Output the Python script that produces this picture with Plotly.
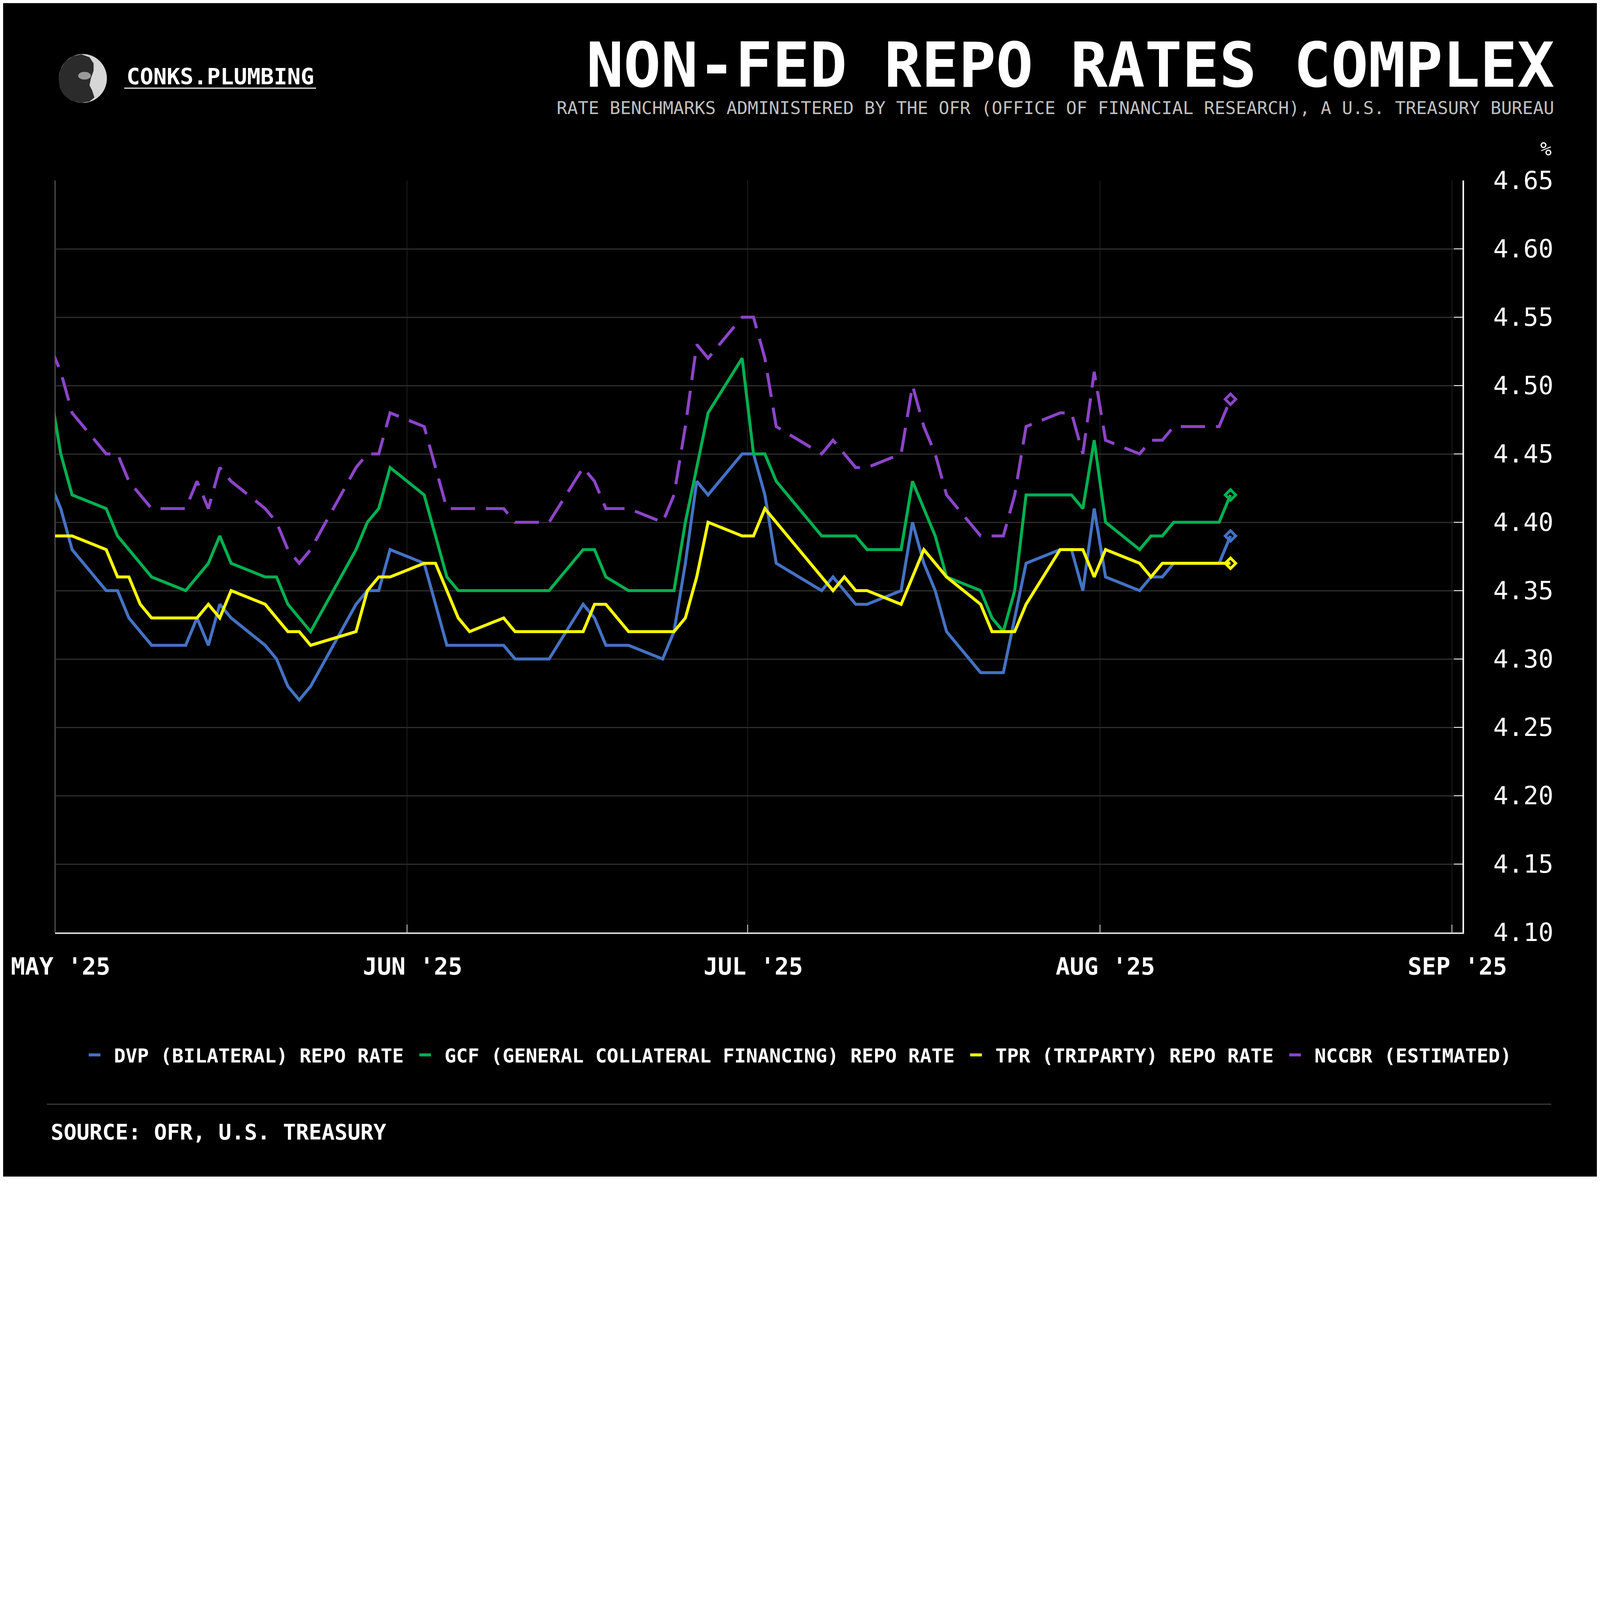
import plotly.graph_objects as go
import pandas as pd

# ---------------- DATA ----------------
dates = ["2025-04-30",
         "2025-05-01", "2025-05-02", "2025-05-05", "2025-05-06", "2025-05-07", "2025-05-08", "2025-05-09",
         "2025-05-12", "2025-05-13", "2025-05-14", "2025-05-15", "2025-05-16",
         "2025-05-19", "2025-05-20", "2025-05-21", "2025-05-22", "2025-05-23",
         "2025-05-27", "2025-05-28", "2025-05-29", "2025-05-30",
         "2025-06-02", "2025-06-03", "2025-06-04", "2025-06-05", "2025-06-06",
         "2025-06-09", "2025-06-10", "2025-06-11", "2025-06-12", "2025-06-13",
         "2025-06-16", "2025-06-17", "2025-06-18", "2025-06-20",
         "2025-06-23", "2025-06-24", "2025-06-25", "2025-06-26", "2025-06-27",
         "2025-06-30", "2025-07-01", "2025-07-02", "2025-07-03",
         "2025-07-07", "2025-07-08", "2025-07-09", "2025-07-10", "2025-07-11",
         "2025-07-14", "2025-07-15", "2025-07-16", "2025-07-17", "2025-07-18",
         "2025-07-21", "2025-07-22", "2025-07-23", "2025-07-24", "2025-07-25",
         "2025-07-28", "2025-07-29", "2025-07-30", "2025-07-31", "2025-08-01",
         "2025-08-04", "2025-08-05", "2025-08-06", "2025-08-07", "2025-08-08",
         "2025-08-11", "2025-08-12"]

dvp = [4.43,
       4.41, 4.38, 4.35, 4.35, 4.33, 4.32, 4.31,
       4.31, 4.33, 4.31, 4.34, 4.33,
       4.31, 4.30, 4.28, 4.27, 4.28,
       4.34, 4.35, 4.35, 4.38,
       4.37, 4.34, 4.31, 4.31, 4.31,
       4.31, 4.30, 4.30, 4.30, 4.30,
       4.34, 4.33, 4.31, 4.31,
       4.30, 4.32, 4.37, 4.43, 4.42,
       4.45, 4.45, 4.42, 4.37,
       4.35, 4.36, 4.35, 4.34, 4.34,
       4.35, 4.40, 4.37, 4.35, 4.32,
       4.29, 4.29, 4.29, 4.33, 4.37,
       4.38, 4.38, 4.35, 4.41, 4.36,
       4.35, 4.36, 4.36, 4.37, 4.37,
       4.37, 4.39]

gcf = [4.50,
       4.45, 4.42, 4.41, 4.39, 4.38, 4.37, 4.36,
       4.35, 4.36, 4.37, 4.39, 4.37,
       4.36, 4.36, 4.34, 4.33, 4.32,
       4.38, 4.40, 4.41, 4.44,
       4.42, 4.39, 4.36, 4.35, 4.35,
       4.35, 4.35, 4.35, 4.35, 4.35,
       4.38, 4.38, 4.36, 4.35,
       4.35, 4.35, 4.40, 4.44, 4.48,
       4.52, 4.45, 4.45, 4.43,
       4.39, 4.39, 4.39, 4.39, 4.38,
       4.38, 4.43, 4.41, 4.39, 4.36,
       4.35, 4.33, 4.32, 4.35, 4.42,
       4.42, 4.42, 4.41, 4.46, 4.40,
       4.38, 4.39, 4.39, 4.40, 4.40,
       4.40, 4.42]

tpr = [4.39,
       4.39, 4.39, 4.38, 4.36, 4.36, 4.34, 4.33,
       4.33, 4.33, 4.34, 4.33, 4.35,
       4.34, 4.33, 4.32, 4.32, 4.31,
       4.32, 4.35, 4.36, 4.36,
       4.37, 4.37, 4.35, 4.33, 4.32,
       4.33, 4.32, 4.32, 4.32, 4.32,
       4.32, 4.34, 4.34, 4.32,
       4.32, 4.32, 4.33, 4.36, 4.40,
       4.39, 4.39, 4.41, 4.40,
       4.36, 4.35, 4.36, 4.35, 4.35,
       4.34, 4.36, 4.38, 4.37, 4.36,
       4.34, 4.32, 4.32, 4.32, 4.34,
       4.38, 4.38, 4.38, 4.36, 4.38,
       4.37, 4.36, 4.37, 4.37, 4.37,
       4.37, 4.37]

nccbr = [4.53,
         4.51, 4.48, 4.45, 4.45, 4.43, 4.42, 4.41,
         4.41, 4.43, 4.41, 4.44, 4.43,
         4.41, 4.40, 4.38, 4.37, 4.38,
         4.44, 4.45, 4.45, 4.48,
         4.47, 4.44, 4.41, 4.41, 4.41,
         4.41, 4.40, 4.40, 4.40, 4.40,
         4.44, 4.43, 4.41, 4.41,
         4.40, 4.42, 4.47, 4.53, 4.52,
         4.55, 4.55, 4.52, 4.47,
         4.45, 4.46, 4.45, 4.44, 4.44,
         4.45, 4.50, 4.47, 4.45, 4.42,
         4.39, 4.39, 4.39, 4.42, 4.47,
         4.48, 4.48, 4.45, 4.51, 4.46,
         4.45, 4.46, 4.46, 4.47, 4.47,
         4.47, 4.49]

series_names = ["DVP (BILATERAL) REPO RATE",
                "GCF (GENERAL COLLATERAL FINANCING) REPO RATE",
                "TPR (TRIPARTY) REPO RATE",
                "NCCBR (ESTIMATED)"]
series_values = [dvp, gcf, tpr, nccbr]
series_colors = ["#4472C4", "#00B050", "#FFFF00", "#8C44C8"]
series_dashed = [False, False, False, True]

month_ticks = ["2025-05-01", "2025-06-01", "2025-07-01", "2025-08-01", "2025-09-01"]
month_labels = ["MAY '25", "JUN '25", "JUL '25", "AUG '25", "SEP '25"]
y_ticks = [4.10, 4.15, 4.20, 4.25, 4.30, 4.35, 4.40, 4.45, 4.50, 4.55, 4.60, 4.65]

title_text = "NON-FED REPO RATES COMPLEX"
subtitle_text = "RATE BENCHMARKS ADMINISTERED BY THE OFR (OFFICE OF FINANCIAL RESEARCH), A U.S. TREASURY BUREAU"
brand_text = "CONKS.PLUMBING"
source_text = "SOURCE: OFR, U.S. TREASURY"

# ---------------- GEOMETRY ----------------
# Reference measured in 5904-wide units; page is ~4100 css px wide (8px body margin)
K = 4100.0 / 5904.0
OFF = 8.0
FONT = "DejaVu Sans Mono"


def c(v):      # reference position -> figure px
    return v * K - OFF


def s(v):      # reference size -> css px
    return v * K


W, H = 4084, 3004
L, R, T, B = c(203), c(5392), c(666), c(3437)


def px(x):
    return (c(x) - L) / (R - L)


def py(y):
    return (B - c(y)) / (B - T)


# observations are plotted at mid-day
x_vals = pd.to_datetime(dates) + pd.Timedelta(hours=12)
dash_pat = "%dpx,%dpx" % (round(s(90)), round(s(40)))
NB = "\u00a0"

fig = go.Figure()
for name, vals, col, dashed in zip(series_names, series_values, series_colors, series_dashed):
    fig.add_trace(go.Scatter(
        x=x_vals, y=vals, mode="lines", name="<b>" + NB + name + NB + "</b>",
        line=dict(color=col, width=s(11), dash=dash_pat if dashed else "solid"),
        hoverinfo="skip"))
for name, vals, col in zip(series_names, series_values, series_colors):
    fig.add_trace(go.Scatter(
        x=[x_vals[-1]], y=[vals[-1]], mode="markers", showlegend=False,
        marker=dict(symbol="diamond-open", size=s(30), color=col,
                    line=dict(color=col, width=s(10))),
        hoverinfo="skip"))

fig.update_layout(
    width=W, height=H, autosize=False,
    margin=dict(l=round(L), r=round(W - R), t=round(T), b=round(H - B), pad=0,
                autoexpand=False),
    paper_bgcolor="#000000", plot_bgcolor="#000000",
    font=dict(family=FONT, color="white"),
    showlegend=True,
    legend=dict(orientation="h", x=px(5624), xanchor="right",
                y=py(3889), yanchor="middle",
                font=dict(family=FONT, size=s(71), color="white"),
                bgcolor="rgba(0,0,0,0)", itemwidth=30, tracegroupgap=0),
    xaxis=dict(type="date", range=["2025-05-01", "2025-09-01 22:20"],
               tickmode="array", tickvals=month_ticks,
               ticktext=["<b>" + t + "</b>" for t in month_labels],
               ticks="inside", ticklen=round(s(29)), tickwidth=2, tickcolor="#dddddd",
               showline=True, linecolor="#d9d9d9", linewidth=s(6),
               showgrid=True, gridcolor="#1e1e1e", gridwidth=2, zeroline=False,
               tickangle=0, automargin=False,
               tickfont=dict(family=FONT, size=s(87), color="white"),
               ticklabelshift=int(round(s(20))), ticklabelstandoff=int(round(s(44)))),
    yaxis=dict(side="right", range=[4.10, 4.65],
               tickmode="array", tickvals=y_ticks,
               ticktext=["%.2f" % v for v in y_ticks],
               ticks="inside", ticklen=round(s(31)), tickwidth=2, tickcolor="white",
               showline=True, linecolor="white", linewidth=s(6),
               showgrid=True, gridcolor="#2e2e2e", gridwidth=s(4), zeroline=False,
               automargin=False,
               tickfont=dict(family=FONT, size=s(92), color="white"),
               ticklabelstandoff=int(round(s(90)))),
)

# left frame line
fig.add_shape(type="line", xref="x domain", yref="y domain", x0=0, x1=0, y0=0, y1=1,
              line=dict(color="#474747", width=s(5)), layer="below")

# separator above the source
fig.add_shape(type="line", xref="paper", yref="paper", x0=px(173), x1=px(5719),
              y0=py(4070), y1=py(4070), line=dict(color="#3a3a3a", width=s(4)))

# brand underline
fig.add_shape(type="line", xref="paper", yref="paper", x0=px(458), x1=px(1165),
              y0=py(326), y1=py(326), line=dict(color="#cccccc", width=s(5)))

# logo (simplified)
fig.add_shape(type="circle", xref="paper", yref="paper", x0=px(217), x1=px(394),
              y0=py(380), y1=py(200), fillcolor="#d6d6d6", line=dict(width=0))
hood = [(300, 201), (268, 208), (240, 228), (222, 258), (216, 290), (220, 325), (236, 352),
        (262, 372), (300, 380), (330, 375), (348, 360), (340, 335), (330, 315), (335, 290),
        (345, 262), (345, 235), (330, 212)]
path = "M " + " L ".join("%f,%f" % (px(a), py(b)) for a, b in hood) + " Z"
fig.add_shape(type="path", xref="paper", yref="paper", path=path,
              fillcolor="#2b2b2b", line=dict(width=0))
fig.add_shape(type="circle", xref="paper", yref="paper", x0=px(288), x1=px(335),
              y0=py(294), y1=py(266), fillcolor="#9a9a9a", line=dict(width=0))

# texts
fig.add_annotation(text="<b>" + title_text + "</b>", xref="paper", yref="paper",
                   x=px(5734), y=py(241), xanchor="right", yanchor="middle",
                   showarrow=False, font=dict(family=FONT, size=s(228), color="white"))
fig.add_annotation(text=subtitle_text, xref="paper", yref="paper",
                   x=px(5734), y=py(399), xanchor="right", yanchor="middle",
                   showarrow=False, font=dict(family=FONT, size=s(65), color="#bfbfbf"))
fig.add_annotation(text="<b>" + brand_text + "</b>", xref="paper", yref="paper",
                   x=px(464), y=py(283), xanchor="left", yanchor="middle",
                   showarrow=False, font=dict(family=FONT, size=s(82), color="white"))
fig.add_annotation(text="%", xref="paper", yref="paper",
                   x=px(5723), y=py(550), xanchor="right", yanchor="middle",
                   showarrow=False, font=dict(family=FONT, size=s(70), color="white"))
fig.add_annotation(text="<b>" + source_text + "</b>", xref="paper", yref="paper",
                   x=px(184), y=py(4172), xanchor="left", yanchor="middle",
                   showarrow=False, font=dict(family=FONT, size=s(79), color="white"))

fig.write_html("out.html")
